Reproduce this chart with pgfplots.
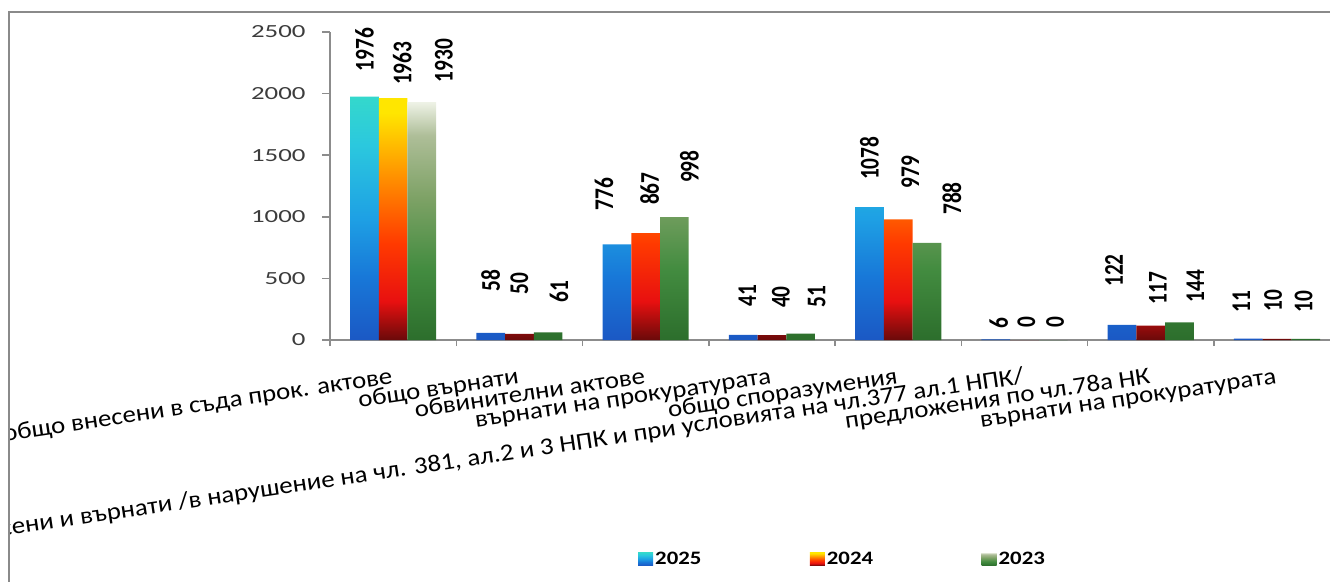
\documentclass[border=0pt]{standalone}
\usepackage{fontspec}
\setmainfont{Carlito}
\newfontfamily\tickfont[FakeStretch=1.45]{Carlito}
\newfontfamily\catfont[FakeStretch=1.12]{Carlito}
\newfontfamily\datafont[FakeStretch=0.79]{Carlito Bold}
\newfontfamily\legfont[FakeStretch=1.2]{Carlito Bold}
\usepackage{pgfplots}
\usepackage{pgfplotstable}
\pgfplotsset{compat=1.18}

\definecolor{bordergray}{HTML}{8A8A8A}
\definecolor{axisgray}{HTML}{8C8C8C}
\definecolor{tickgray}{HTML}{3C3C3C}
% 2025
\definecolor{aA}{HTML}{1B58C4}
\definecolor{aB}{HTML}{1878D8}
\definecolor{aC}{HTML}{1EA0E4}
\definecolor{aD}{HTML}{2BC8DE}
\definecolor{aE}{HTML}{34D8CC}
% 2024
\definecolor{bA}{HTML}{6A0A0A}
\definecolor{bB}{HTML}{E81010}
\definecolor{bC}{HTML}{FF3A00}
\definecolor{bD}{HTML}{FF8C00}
\definecolor{bE}{HTML}{FFE600}
% 2023
\definecolor{cA}{HTML}{2C6E2C}
\definecolor{cB}{HTML}{438C40}
\definecolor{cC}{HTML}{7EA266}
\definecolor{cD}{HTML}{AEBE98}
\definecolor{cE}{HTML}{EEF2E6}

\pgfdeclareverticalshading{s2025}{100bp}{color(0bp)=(aA); color(25bp)=(aA); color(38bp)=(aB); color(50bp)=(aC); color(65bp)=(aD); color(75bp)=(aE); color(100bp)=(aE)}
\pgfdeclareverticalshading{s2024}{100bp}{color(0bp)=(bA); color(25bp)=(bA); color(33bp)=(bB); color(45bp)=(bC); color(58bp)=(bD); color(72bp)=(bE); color(100bp)=(bE)}
\pgfdeclareverticalshading{s2023}{100bp}{color(0bp)=(cA); color(25bp)=(cA); color(40bp)=(cB); color(55bp)=(cC); color(68bp)=(cD); color(75bp)=(cE); color(100bp)=(cE)}

\pgfplotsset{mylegimg/.style={legend image code/.code={\path[##1, draw=none] (0pt,-6.5pt) rectangle (15pt,6.5pt);}}}

\pgfplotstableread{
x y dx gap
0 1976 0 25
1 58 0 41
2 776 -13 34
3 41 4 28
4 1078 0 27
5 6 3 11
6 122 -8 38
7 11 -7 26
}\dataA
\pgfplotstableread{
x y dx gap
0 1963 9 13
1 50 0 39
2 867 4 28
3 40 9 27
4 979 12 31
5 0 2 12
6 117 7 21
7 10 -4 27
}\dataB
\pgfplotstableread{
x y dx gap
0 1930 22 20
1 61 11 30
2 998 15 34
3 51 16 26
4 788 25 28
5 0 2 12
6 144 16 20
7 10 -2 26
}\dataC

\begin{document}
\begin{tikzpicture}[x=1pt,y=1pt]
\useasboundingbox (0,0) rectangle (1330,581);
\begin{scope}
\clip (10,0) rectangle (1330,568);
\begin{axis}[
  at={(330pt,241pt)}, anchor=south west,
  scale only axis, width=1000pt, height=308pt,
  xmin=-0.5, xmax=7.42, ymin=0, ymax=2500,
  clip=false,
  axis x line*=bottom, axis y line*=left,
  axis line style={draw=axisgray, line width=1.8pt},
  ybar=0pt, bar width=28.7pt,
  /pgf/number format/.cd, 1000 sep={}, assume math mode=true, /pgfplots/.cd,
  ytick={0,500,1000,1500,2000,2500},
  xtick={0,...,7},
  minor xtick={-0.5,0.5,...,6.5},
  xticklabels={общо внесени в съда прок. актове, общо върнати, обвинителни актове, върнати на прокуратурата, общо споразумения, внесени и върнати /в нарушение на чл. 381{,} ал.2 и 3 НПК и при условията на чл.377 ал.1 НПК/, предложения по чл.78а НК, върнати на прокуратурата},
  tick align=outside,
  major tick length=8pt, minor tick length=6pt,
  every tick/.style={draw=axisgray, line width=1.4pt},
  major x tick style={draw=none},
  yticklabel style={font=\tickfont\fontsize{18.5}{20}\selectfont, text=tickgray, xshift=-13pt},
  xticklabel style={font=\catfont\fontsize{24}{26}\selectfont, text=black, rotate=8.5, anchor=base east, inner sep=0pt, yshift=-35pt, xshift=-5pt},
  nodes near coords,
  every node near coord/.append style={font=\datafont\fontsize{27}{27}\selectfont, text=black, inner sep=0pt, xshift=\dx pt, yshift=\gap pt, rotate=90, anchor=west},
  legend columns=3,
  legend style={at={(0.308,-0.711)}, anchor=west, draw=none, fill=none, inner sep=0pt,
    font=\legfont\fontsize{19}{20}\selectfont,
    /tikz/every even column/.append style={column sep=106.5pt}},
]
\addplot[draw=none, shade, shading=s2025, mylegimg,
  visualization depends on={\thisrow{dx} \as \dx},
  visualization depends on={\thisrow{gap} \as \gap}]
  table[x=x,y=y] {\dataA};
\addlegendentry{2025}
\addplot[draw=none, shade, shading=s2024, mylegimg,
  visualization depends on={\thisrow{dx} \as \dx},
  visualization depends on={\thisrow{gap} \as \gap}]
  table[x=x,y=y] {\dataB};
\addlegendentry{2024}
\addplot[draw=none, shade, shading=s2023, mylegimg,
  visualization depends on={\thisrow{dx} \as \dx},
  visualization depends on={\thisrow{gap} \as \gap}]
  table[x=x,y=y] {\dataC};
\addlegendentry{2023}
\end{axis}
\end{scope}
\draw[bordergray, line width=2pt] (9,-2) -- (9,569) -- (1335,569);
\end{tikzpicture}
\end{document}
